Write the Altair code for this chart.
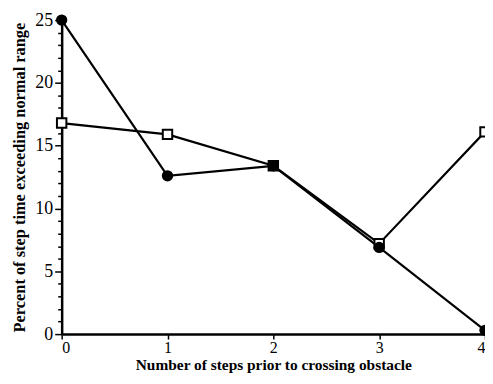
import altair as alt
import pandas as pd

steps = [0, 1, 2, 3, 4]
filled_circle = [25.0, 12.6, 13.4, 6.9, 0.3]
open_square = [16.8, 15.9, 13.4, 7.2, 16.1]

df = pd.DataFrame({
    "steps": steps * 2,
    "value": filled_circle + open_square,
    "series": ["circle"] * 5 + ["square"] * 5,
})

FONT = "Liberation Serif, Times New Roman, serif"

x = alt.X("steps:Q", scale=alt.Scale(domain=[0, 4], nice=False),
          axis=alt.Axis(values=steps, format="d", title="Number of steps prior to crossing obstacle",
                        grid=False, tickSize=5, tickWidth=1.5, domainWidth=2.5,
                        labelFont=FONT, titleFont=FONT,
                        labelFontSize=16, titleFontSize=15.5, titleFontWeight="bold",
                        labelPadding=1, titlePadding=2))
y = alt.Y("value:Q", scale=alt.Scale(domain=[0, 25], nice=False),
          axis=alt.Axis(values=list(range(0, 26)),
                        labelExpr="datum.value % 5 === 0 ? datum.label : ''",
                        tickSize={"condition": {"test": "datum.value % 5 === 0", "value": 7}, "value": 4},
                        title="Percent of step time exceeding normal range",
                        grid=False, tickWidth=1.5, domainWidth=2.5,
                        labelFont=FONT, titleFont=FONT,
                        labelFontSize=18, titleFontSize=16.5, titleFontWeight="bold",
                        labelPadding=2, titlePadding=7))

lines = alt.Chart(df).mark_line(color="black", strokeWidth=2.2).encode(
    x=x, y=y, detail="series:N")

squares = alt.Chart(df).transform_filter("datum.series === 'square'").mark_point(
    shape="square", filled=False, fill="white", stroke="black", strokeWidth=2, size=90, opacity=1).encode(x=x, y=y)

circles = alt.Chart(df).transform_filter("datum.series === 'circle'").mark_point(
    shape="circle", filled=True, color="black", size=130, opacity=1).encode(x=x, y=y)

chart = alt.layer(lines, squares, circles).properties(
    width=426, height=316,
    autosize=alt.AutoSizeParams(type="none"),
    padding={"left": 54, "top": 11, "right": 0, "bottom": 41},
).configure_view(stroke=None).configure_axis(
    domainColor="black", tickColor="black",
    labelColor="black", titleColor="black"
)

chart.save("out.html", embed_options={"renderer": "svg", "actions": False})
